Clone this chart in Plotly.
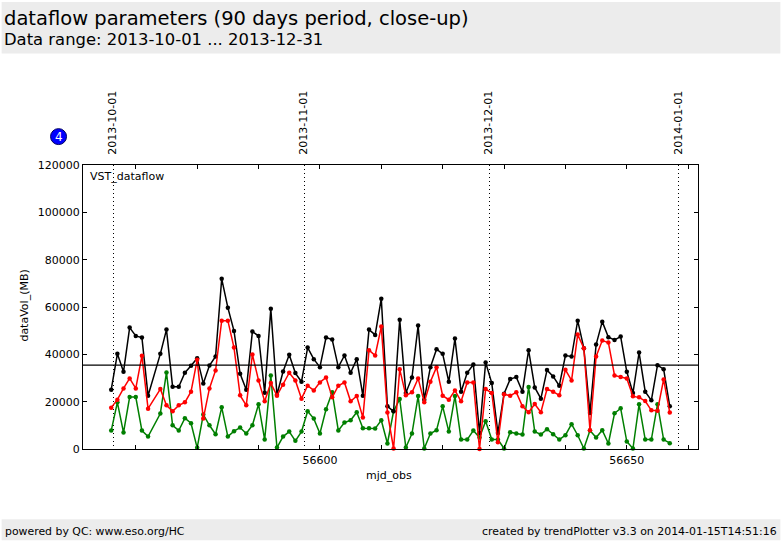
import plotly.graph_objects as go

W, H = 782, 542
L, R, T, B = 82.5, 698.5, 164.5, 449.5

mjd_obs = [56566,56567,56568,56569,56570,56571,56572,56574,56575,56576,56577,56578,56579,56580,56581,56582,56583,56584,56585,56586,56587,56588,56589,56590,56591,56592,56593,56594,56595,
           56596,56597,56598,56599,56600,56601,56602,56603,56604,56605,56606,56607,56608,56609,56610,56611,56612,56613,56614,56615,56616,56617,56618,56619,56620,56621,56622,56623,56624,56625,56626,56627,
           56628,56629,56630,56631,56632,56633,56634,56635,56636,56637,56638,56639,56640,56641,56642,56643,56644,56645,56646,56647,56648,56649,56650,56651,56652,56653,56654,56655,56656,56657]

black = [25050,40200,32630,51290,47780,47080,22530,40200,50450,26310,26310,32210,35150,38380,27720,35290,39080,71920,59710,49890,31790,25050,49610,47780,23790,59290,22950,32770,39790,
         32070,28420,42870,37960,34590,47080,46240,34590,39500,32210,37960,22530,50450,48210,63500,18030,15930,54660,23650,30240,52140,20840,34590,42170,40200,28420,46660,24210,32210,35720,6800,36560,
         27860,6810,23370,29540,30380,24210,41750,26030,21260,33330,30660,26740,39500,39080,54240,42590,15230,44140,53820,47220,46100,47500,32630,23650,40770,24210,20560,35430,33750,18030]
red = [17470,20840,25610,29820,25610,39360,17050,25330,18450,15930,18450,19720,24210,37680,12840,25610,33190,54240,54240,42870,22660,18450,39930,28980,20140,27860,22530,27160,32210,
       28980,21260,26740,24770,28140,30240,21820,26740,28140,20140,22380,13260,41750,39500,51710,15370,210,33750,22660,23930,29820,19720,28420,34590,22530,20840,24770,20140,28140,28140,0,25330,
       23650,2880,23090,22530,23930,18030,15510,19020,15510,25330,24210,22660,33470,28980,48350,42590,7930,39080,45820,44980,31080,30380,29820,22240,21820,20280,16350,16210,29400,15370]
green = [7790,19720,6950,21960,21960,7790,5260,14950,32350,10030,7790,12980,10880,490,14530,10030,6250,17610,5260,7510,9050,6530,10030,18880,3990,31080,630,5260,7370,
         3440,7370,15930,12840,6530,16770,23930,7790,11160,12140,15510,8770,8770,8630,12140,2320,15930,21120,630,6530,22380,210,6530,7930,18030,7370,22380,3990,3990,7790,4840,11720,
         3990,3990,210,7090,6530,6110,26170,7370,6110,8350,6250,3990,5820,10460,5820,210,7790,4840,7930,2320,15090,17190,3160,210,18880,3990,3990,18880,3990,2460]

median_value = [35450, 35450]
x_range = [56561.4, 56661.6]
y_range = [0, 120000]
date_positions = [56566.4, 56597.5, 56627.6, 56658.5]
date_labels = ["2013-10-01", "2013-11-01", "2013-12-01", "2014-01-01"]
x_ticks = [56570, 56580, 56590, 56600, 56610, 56620, 56630, 56640, 56650, 56660]
x_tick_labels = ["", "", "", "56600", "", "", "", "", "56650", ""]
y_ticks = [0, 20000, 40000, 60000, 80000, 100000, 120000]

FONT = "DejaVu Sans"

def px(x):
    return (x - L) / (R - L)

def py(y):
    return (B - y) / (B - T)

fig = go.Figure()
fig.add_trace(go.Scatter(x=mjd_obs, y=green, mode="lines+markers", line=dict(color="#007f00", width=1.5),
                         marker=dict(color="#007f00", size=4.5), cliponaxis=False))
fig.add_trace(go.Scatter(x=mjd_obs, y=black, mode="lines+markers", line=dict(color="black", width=1.5),
                         marker=dict(color="black", size=4.5), cliponaxis=False))
fig.add_trace(go.Scatter(x=mjd_obs, y=red, mode="lines+markers", line=dict(color="#ff0000", width=1.5),
                         marker=dict(color="#ff0000", size=4.5), cliponaxis=False))
fig.add_trace(go.Scatter(x=x_range, y=median_value, mode="lines", line=dict(color="black", width=1.1)))
fig.add_trace(go.Scatter(x=date_positions, y=[None]*4, xaxis="x2", showlegend=False))

fig.update_layout(
    width=W, height=H, showlegend=False, paper_bgcolor="white", plot_bgcolor="white",
    margin=dict(l=L, r=W - R, t=T, b=H - B, pad=0),
    font=dict(family=FONT, size=11, color="black"),
    xaxis=dict(range=x_range, tickmode="array", tickvals=x_ticks, ticktext=x_tick_labels, ticks="inside",
               ticklen=4, tickcolor="black", tickwidth=1, showgrid=False, zeroline=False, showline=True,
               linecolor="black", linewidth=1, mirror="ticks", tickfont=dict(size=11), ticklabelstandoff=1),
    yaxis=dict(range=y_range, tickmode="array", tickvals=y_ticks, tickformat="d", ticks="inside",
               ticklen=4, tickcolor="black", tickwidth=1, showgrid=False, zeroline=False, showline=True,
               linecolor="black", linewidth=1, mirror="ticks", tickfont=dict(size=11)),
    xaxis2=dict(range=x_range, overlaying="x", side="top", tickmode="array", tickvals=date_positions,
                ticktext=date_labels, tickangle=-90, ticks="outside", ticklen=7, tickcolor="rgba(0,0,0,0)",
                ticklabelshift=-1, showgrid=True, gridcolor="black", griddash="1px,3px",
                gridwidth=1, zeroline=False, showline=False, tickfont=dict(size=11)),
    shapes=[
        dict(type="rect", xref="paper", yref="paper", x0=px(1), x1=px(781), y0=py(52.5), y1=py(1),
             fillcolor="#ececec", line_width=0, layer="below"),
        dict(type="rect", xref="paper", yref="paper", x0=px(1), x1=px(781), y0=py(541), y1=py(520),
             fillcolor="#ececec", line_width=0, layer="below"),
        dict(type="circle", xref="paper", yref="paper", x0=px(50), x1=px(66), y0=py(144), y1=py(128),
             fillcolor="#0000ff", line=dict(color="#000060", width=1)),
    ],
)

def note(x, y, text, size, xanchor="left", color="black", angle=0):
    fig.add_annotation(xref="paper", yref="paper", x=px(x), y=py(y), text=text, showarrow=False, xanchor=xanchor,
                       yanchor="middle", font=dict(size=size, color=color, family=FONT), textangle=angle,
                       borderpad=0, borderwidth=0)

note(3, 17, "dataflow parameters (90 days period, close-up)", 19.5)
note(3, 39, "Data range: 2013-10-01 ... 2013-12-31", 16.4)
note(4, 532, "powered by QC: www.eso.org/HC", 10.9)
note(778, 532, "created by trendPlotter v3.3 on 2014-01-15T14:51:16", 10.95, xanchor="right")
note(90, 176, "VST_dataflow", 11)
note(58, 136, "4", 12, xanchor="center", color="white")
note(23, 306, "dataVol_(MB)", 11, xanchor="center", angle=-90)
note(389, 476, "mjd_obs", 11, xanchor="center")

fig.write_html("out.html", config=dict(displayModeBar=False), post_script="document.body.style.margin='0';")
